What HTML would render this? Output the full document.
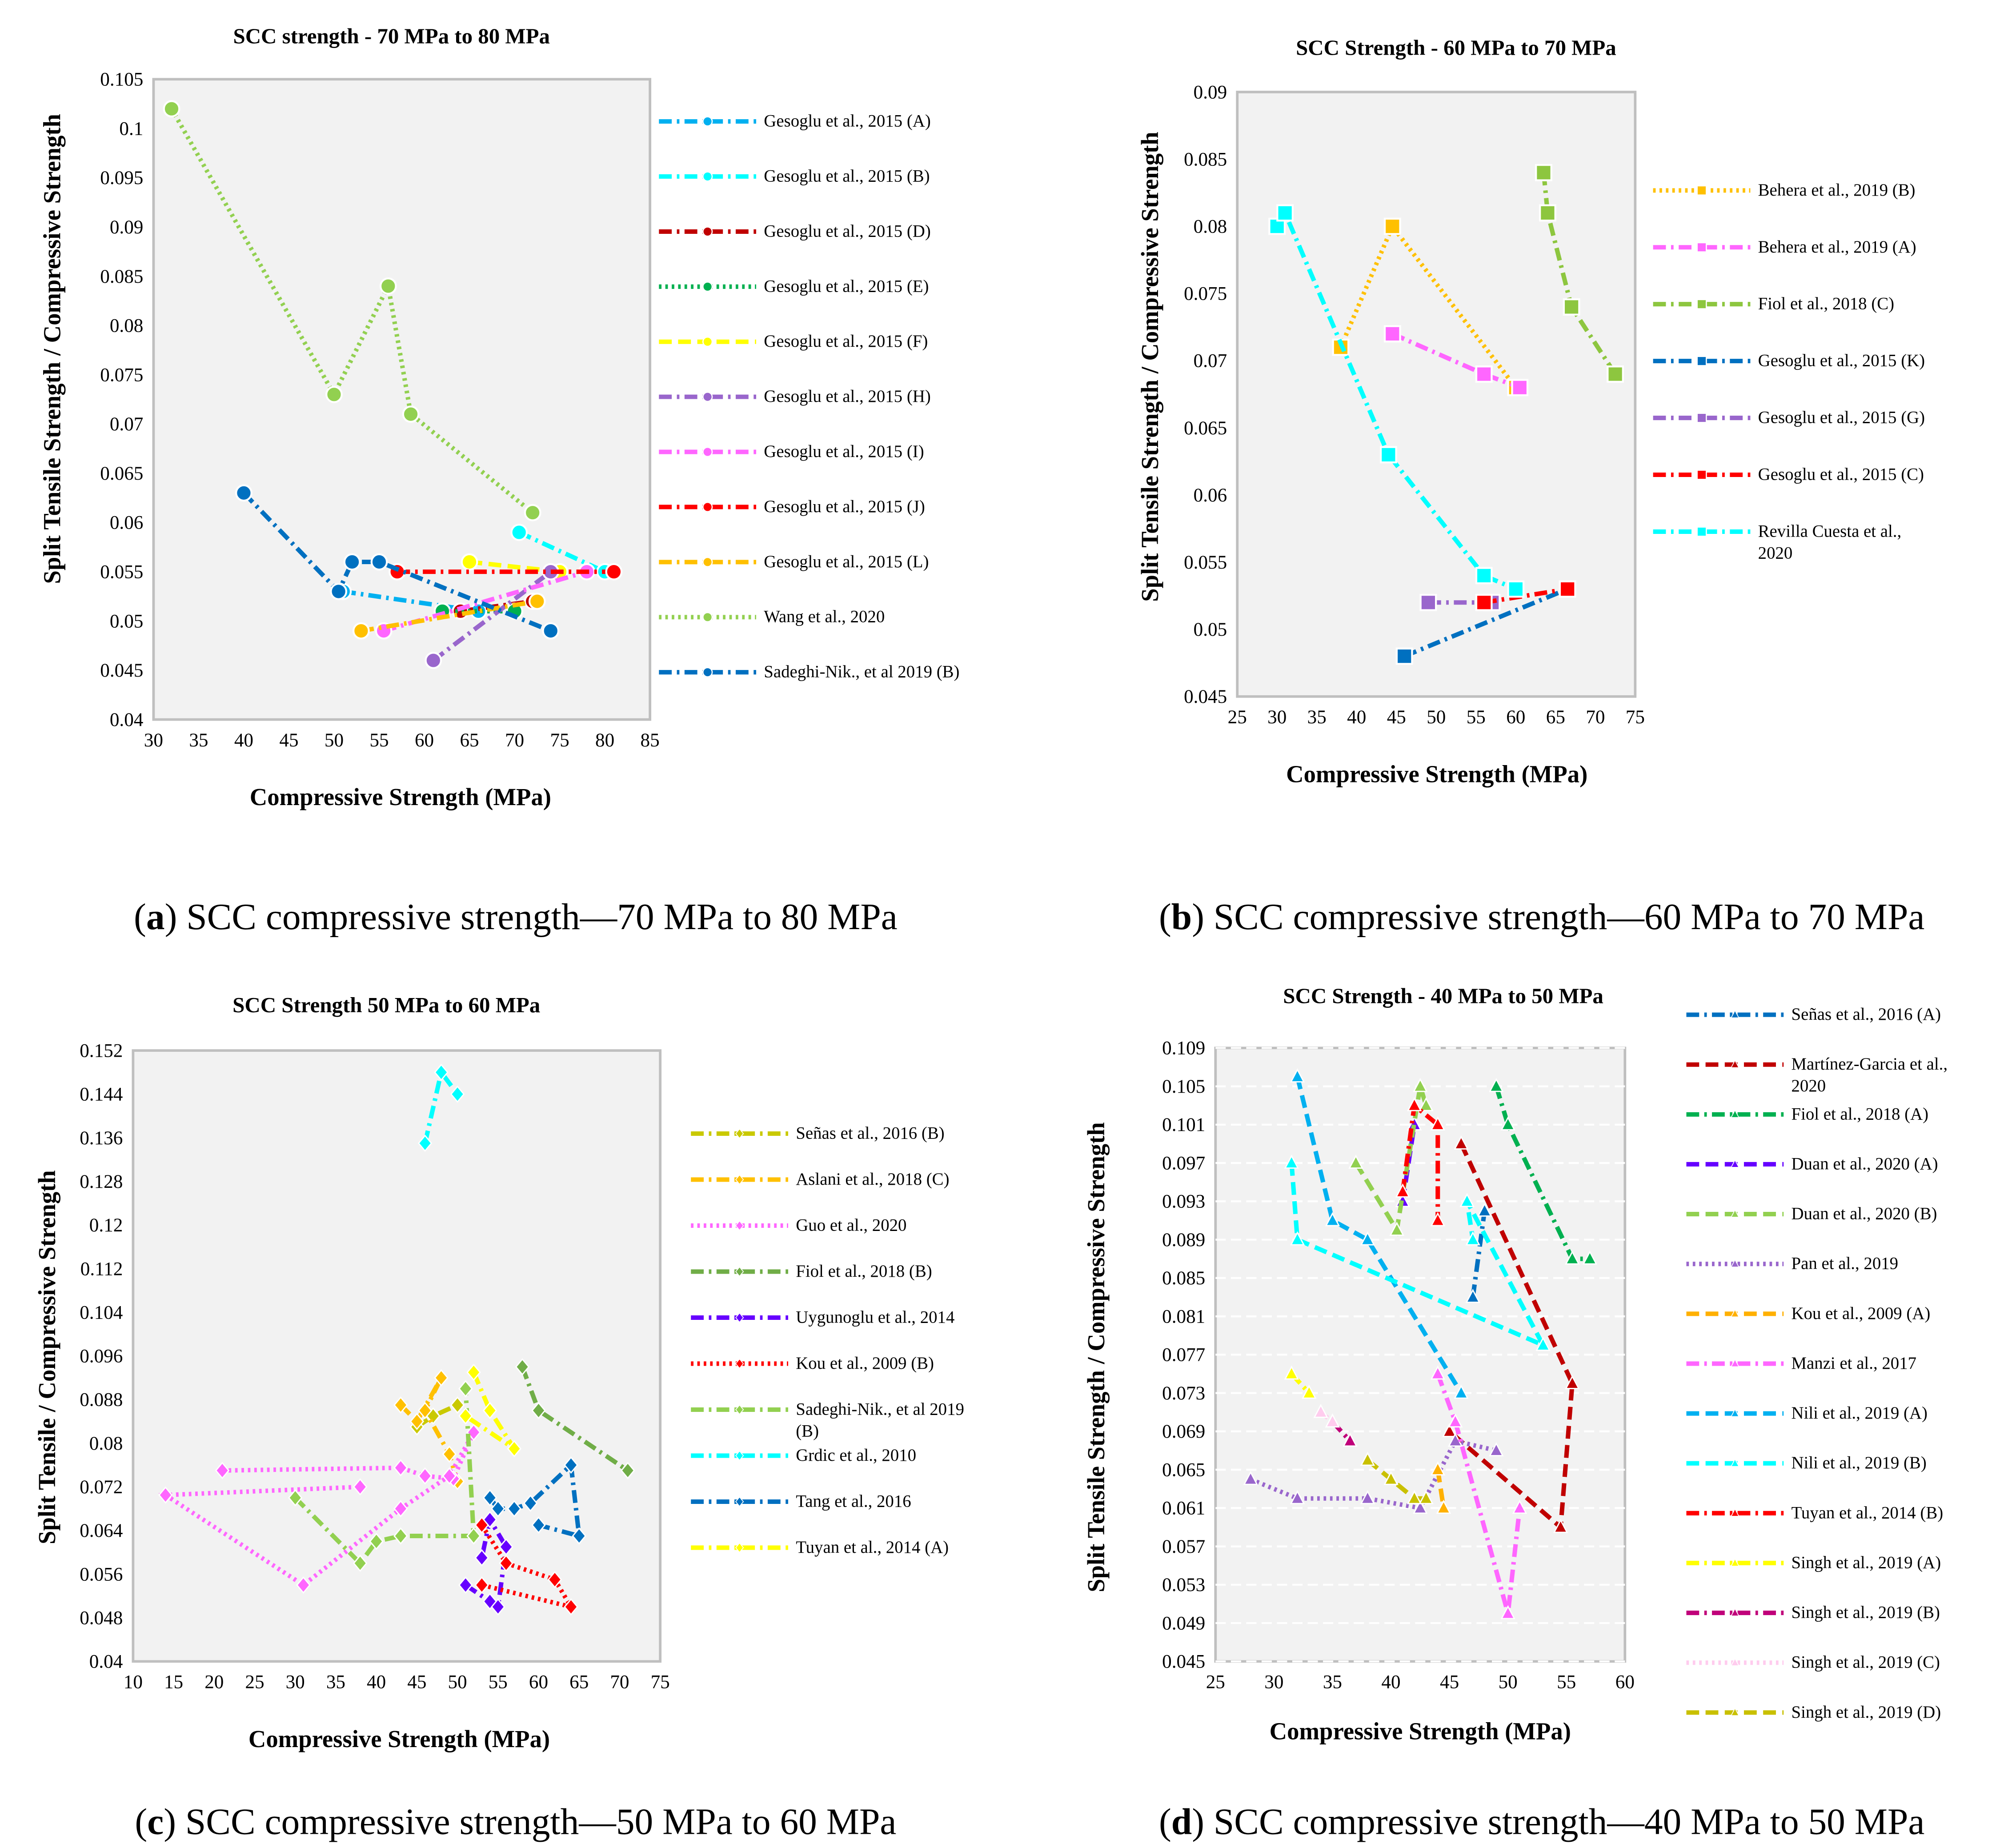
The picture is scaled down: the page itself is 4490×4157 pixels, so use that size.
<!DOCTYPE html>
<html><head><meta charset="utf-8"><style>
html,body{margin:0;padding:0;background:#fff}
svg{display:block}
text{font-family:"Liberation Serif",serif;fill:#000}
</style></head><body>
<svg id="s" width="4490" height="4157" viewBox="0 0 1560 1446" preserveAspectRatio="none" xmlns="http://www.w3.org/2000/svg"></svg>
<script>
// ---- Chart A data ----
const aWangX=[32,50,56,58.5,72], aWangY=[0.102,0.073,0.084,0.071,0.061];
const aSadX=[40,50.5,52,55,74], aSadY=[0.063,0.053,0.056,0.056,0.049];
const aAX=[51,66], aAY=[0.053,0.051];
const aBX=[70.5,80], aBY=[0.059,0.055];
const aDX=[64,72], aDY=[0.051,0.052];
const aEX=[62,70], aEY=[0.051,0.051];
const aFX=[65,75], aFY=[0.056,0.055];
const aHX=[61,74], aHY=[0.046,0.055];
const aIX=[55.5,78], aIY=[0.049,0.055];
const aJX=[57,81], aJY=[0.055,0.055];
const aLX=[53,72.5], aLY=[0.049,0.052];
const aXTicks=[30,35,40,45,50,55,60,65,70,75,80,85];
const aYTicks=[0.04,0.045,0.05,0.055,0.06,0.065,0.07,0.075,0.08,0.085,0.09,0.095,0.1,0.105];
// ---- Chart B data ----
const bBehBX=[38,44.5,60], bBehBY=[0.071,0.08,0.068];
const bBehAX=[44.5,56,60.5], bBehAY=[0.072,0.069,0.068];
const bFiolX=[63.5,64,67,72.5], bFiolY=[0.084,0.081,0.074,0.069];
const bKX=[46,66.5], bKY=[0.048,0.053];
const bGX=[49,57], bGY=[0.052,0.052];
const bCX=[56,66.5], bCY=[0.052,0.053];
const bRevX=[30,31,44,56,60], bRevY=[0.08,0.081,0.063,0.054,0.053];
const bXTicks=[25,30,35,40,45,50,55,60,65,70,75];
const bYTicks=[0.045,0.05,0.055,0.06,0.065,0.07,0.075,0.08,0.085,0.09];
// ---- Chart C data ----
const cSenX=[45,47,50], cSenY=[0.083,0.085,0.087];
const cAslX=[43,45,48,46,49,50], cAslY=[0.087,0.084,0.092,0.086,0.078,0.073];
const cGuoX=[21,43,46,49.5,52,49,43,31,14,38], cGuoY=[0.075,0.0755,0.074,0.0735,0.082,0.074,0.068,0.054,0.0705,0.072];
const cFiolX=[58,60,71], cFiolY=[0.094,0.086,0.075];
const cUygX=[51,54,55,56,54,53], cUygY=[0.054,0.051,0.05,0.061,0.066,0.059];
const cKouX=[53,56,62,64,53], cKouY=[0.065,0.058,0.055,0.05,0.054];
const cSadX=[30,38,40,43,52,51], cSadY=[0.07,0.058,0.062,0.063,0.063,0.09];
const cGrdX=[46,48,50], cGrdY=[0.135,0.148,0.144];
const cTangX=[54,55,57,59,64,65,60], cTangY=[0.07,0.068,0.068,0.069,0.076,0.063,0.065];
const cTuyX=[52,54,57,51], cTuyY=[0.093,0.086,0.079,0.085];
const cXTicks=[10,15,20,25,30,35,40,45,50,55,60,65,70,75];
const cYTicks=[0.04,0.048,0.056,0.064,0.072,0.08,0.088,0.096,0.104,0.112,0.12,0.128,0.136,0.144,0.152];
// ---- Chart D data ----
const dSenX=[47,48], dSenY=[0.083,0.092];
const dMarX=[46,55.5,54.5,45], dMarY=[0.099,0.074,0.059,0.069];
const dFiolX=[49,50,55.5,57], dFiolY=[0.105,0.101,0.087,0.087];
const dDuAX=[41,42], dDuAY=[0.093,0.101];
const dDuBX=[37,40.5,42.5,43], dDuBY=[0.097,0.09,0.105,0.103];
const dPanX=[28,32,38,42.5,45.5,49], dPanY=[0.064,0.062,0.062,0.061,0.068,0.067];
const dKouX=[44,44.5], dKouY=[0.065,0.061];
const dManX=[44,45.5,50,51], dManY=[0.075,0.07,0.05,0.061];
const dNiAX=[32,35,38,46], dNiAY=[0.106,0.091,0.089,0.073];
const dNiBX=[31.5,32,53,46.5,47], dNiBY=[0.097,0.089,0.078,0.093,0.089];
const dTuyX=[41,42,44,44], dTuyY=[0.094,0.103,0.101,0.091];
const dSAX=[31.5,33], dSAY=[0.075,0.073];
const dSBX=[35,36.5], dSBY=[0.07,0.068];
const dSCX=[34,35], dSCY=[0.071,0.07];
const dSDX=[38,40,42,43], dSDY=[0.066,0.064,0.062,0.062];
const dXTicks=[25,30,35,40,45,50,55,60];
const dYTicks=[0.045,0.049,0.053,0.057,0.061,0.065,0.069,0.073,0.077,0.081,0.085,0.089,0.093,0.097,0.101,0.105,0.109];

const NS="http://www.w3.org/2000/svg", S=document.getElementById('s');
function el(tag,at,parent,txt){const e=document.createElementNS(NS,tag);for(const k in at)e.setAttribute(k,at[k]);if(txt!==undefined)e.textContent=txt;(parent||S).appendChild(e);return e;}
const DASH={dd:"10,4,2,4",dot:"2,3",dash:"10,5"};
function marker(g,shape,x,y,c){let m;
 if(shape==='c')m=el('circle',{cx:x,cy:y,r:6,fill:c,stroke:'#fff','stroke-width':1.5},g);
 else if(shape==='s')m=el('rect',{x:x-6,y:y-6,width:12,height:12,fill:c,stroke:'#fff','stroke-width':1.5},g);
 else if(shape==='d')m=el('path',{d:`M${x},${y-6}L${x+5},${y}L${x},${y+6}L${x-5},${y}Z`,fill:c,stroke:'#fff','stroke-width':1},g);
 else m=el('path',{d:`M${x},${y-5.5}L${x+5},${y+4}L${x-5},${y+4}Z`,fill:c,stroke:'#fff','stroke-width':1},g);
 return m;}
function chart(cfg){
 const g=el('g',{});  
 const [x0,x1,y0,y1]=cfg.box, [xa,xb]=cfg.xd, [ya,yb]=cfg.yd;
 const sx=v=>x0+(v-xa)/(xb-xa)*(x1-x0), sy=v=>y1-(v-ya)/(yb-ya)*(y1-y0);
 const pa=el('rect',{x:x0,y:y0,width:x1-x0,height:y1-y0,fill:'#f2f2f2',stroke:'#bfbfbf','stroke-width':2},g);
 
 if(cfg.grid)cfg.yt.forEach(v=>{const l=el('line',{x1:x0,x2:x1,y1:sy(v),y2:sy(v),stroke:'#fff','stroke-width':1.5,'stroke-dasharray':'8,4'},g);});
 cfg.xt.forEach(v=>{const t=el('text',{x:sx(v),y:y1+21,'text-anchor':'middle','font-size':15},g,String(v));});
 cfg.yt.forEach(v=>{const t=el('text',{x:x0-8,y:sy(v)+5,'text-anchor':'end','font-size':15},g,String(+v.toFixed(3)));});
 let t=el('text',{x:cfg.title[0],y:cfg.title[1],'text-anchor':'middle','font-size':17,'font-weight':'bold'},g,cfg.title[2]);
 t=el('text',{x:cfg.xl[0],y:cfg.xl[1],'text-anchor':'middle','font-size':19,'font-weight':'bold'},g,'Compressive Strength (MPa)');
 t=el('text',{x:0,y:0,'text-anchor':'middle','font-size':19,'font-weight':'bold',transform:`translate(${cfg.yl[0]},${cfg.yl[1]}) rotate(-90)`},g,cfg.yl[2]);
 t=el('text',{x:cfg.cap[0],y:cfg.cap[1],'text-anchor':'middle','font-size':29},g);
 el('tspan',{},t,'(');el('tspan',{'font-weight':'bold'},t,cfg.cap[2]);el('tspan',{},t,') '+cfg.cap[3]);
 
 cfg.series.forEach((s,i)=>{
  const sg=el('g',{},g);
  const pts=s.x.map((v,j)=>sx(v)+','+sy(s.y[j])).join(' ');
  el('polyline',{points:pts,fill:'none',stroke:s.c,'stroke-width':3.5,'stroke-dasharray':DASH[s.d]},sg);
  s.x.forEach((v,j)=>{const m=marker(sg,cfg.m,sx(v),sy(s.y[j]),s.c);});
  const L=cfg.leg, ly=L.y+L.dy*i;
  const lg=el('g',{},g);
  el('line',{x1:L.x,x2:L.x+76,y1:ly,y2:ly,stroke:s.c,'stroke-width':3.5,'stroke-dasharray':DASH[s.d]},lg);
  marker(lg,cfg.m,L.x+38,ly,s.c).setAttribute('transform',`translate(${L.x+38},${ly}) scale(0.6) translate(${-(L.x+38)},${-ly})`);
  const lines=s.n.split('|');
  lines.forEach((ln,k)=>el('text',{x:L.x+82,y:ly+4+k*17,'font-size':13.5},lg,ln));
 });
}
chart({name:'chart-a',box:[120,508,62,563],xd:[30,85],yd:[0.04,0.105],xt:aXTicks,yt:aYTicks,m:'c',
 title:[306,34,'SCC strength - 70 MPa to 80 MPa'],xl:[313,630],yl:[47,273,'Split Tensile Strength / Compressive Strength'],
 cap:[403,727,'a','SCC compressive strength\u201470 MPa to 80 MPa'],leg:{x:515,y:95,dy:43.1},
 series:[{key:'gesoglu-a',n:'Gesoglu et al., 2015 (A)',c:'#00b0f0',d:'dd',x:aAX,y:aAY},
 {key:'gesoglu-b',n:'Gesoglu et al., 2015 (B)',c:'#00ffff',d:'dd',x:aBX,y:aBY},
 {key:'gesoglu-d',n:'Gesoglu et al., 2015 (D)',c:'#c00000',d:'dd',x:aDX,y:aDY},
 {key:'gesoglu-e',n:'Gesoglu et al., 2015 (E)',c:'#00b050',d:'dot',x:aEX,y:aEY},
 {key:'gesoglu-f',n:'Gesoglu et al., 2015 (F)',c:'#ffff00',d:'dash',x:aFX,y:aFY},
 {key:'gesoglu-h',n:'Gesoglu et al., 2015 (H)',c:'#9966cc',d:'dd',x:aHX,y:aHY},
 {key:'gesoglu-i',n:'Gesoglu et al., 2015 (I)',c:'#ff66ff',d:'dd',x:aIX,y:aIY},
 {key:'gesoglu-j',n:'Gesoglu et al., 2015 (J)',c:'#ff0000',d:'dd',x:aJX,y:aJY},
 {key:'gesoglu-l',n:'Gesoglu et al., 2015 (L)',c:'#ffc000',d:'dd',x:aLX,y:aLY},
 {key:'wang',n:'Wang et al., 2020',c:'#92d050',d:'dot',x:aWangX,y:aWangY},
 {key:'sadeghi-b',n:'Sadeghi-Nik., et al 2019 (B)',c:'#0070c0',d:'dd',x:aSadX,y:aSadY}]});
chart({name:'chart-b',box:[967,1278,72,545],xd:[25,75],yd:[0.045,0.09],xt:bXTicks,yt:bYTicks,m:'s',
 title:[1138,43,'SCC Strength - 60 MPa to 70 MPa'],xl:[1123,612],yl:[905,287,'Split Tensile Strength / Compressive Strength'],
 cap:[1205,727,'b','SCC compressive strength\u201460 MPa to 70 MPa'],leg:{x:1292,y:149,dy:44.5},
 series:[{key:'behera-b',n:'Behera et al., 2019 (B)',c:'#ffc000',d:'dot',x:bBehBX,y:bBehBY},
 {key:'behera-a',n:'Behera et al., 2019 (A)',c:'#ff66ff',d:'dd',x:bBehAX,y:bBehAY},
 {key:'fiol-c',n:'Fiol et al., 2018 (C)',c:'#8dc63f',d:'dd',x:bFiolX,y:bFiolY},
 {key:'gesoglu-k',n:'Gesoglu et al., 2015 (K)',c:'#0070c0',d:'dd',x:bKX,y:bKY},
 {key:'gesoglu-g',n:'Gesoglu et al., 2015 (G)',c:'#9966cc',d:'dd',x:bGX,y:bGY},
 {key:'gesoglu-c',n:'Gesoglu et al., 2015 (C)',c:'#ff0000',d:'dd',x:bCX,y:bCY},
 {key:'revilla',n:'Revilla Cuesta et al.,|2020',c:'#00ffff',d:'dd',x:bRevX,y:bRevY}]});
chart({name:'chart-c',box:[104,516,822,1300],xd:[10,75],yd:[0.04,0.152],xt:cXTicks,yt:cYTicks,m:'d',
 title:[302,792,'SCC Strength 50 MPa to 60 MPa'],xl:[312,1367],yl:[43,1062,'Split Tensile / Compressive Strength'],
 cap:[403,1435,'c','SCC compressive strength\u201450 MPa to 60 MPa'],leg:{x:540,y:887,dy:36},
 series:[{key:'senas-b',n:'Señas et al., 2016 (B)',c:'#c9c900',d:'dd',x:cSenX,y:cSenY},
 {key:'aslani-c',n:'Aslani et al., 2018 (C)',c:'#ffc000',d:'dd',x:cAslX,y:cAslY},
 {key:'guo',n:'Guo et al., 2020',c:'#ff66ff',d:'dot',x:cGuoX,y:cGuoY},
 {key:'fiol-b',n:'Fiol et al., 2018 (B)',c:'#70ad47',d:'dd',x:cFiolX,y:cFiolY},
 {key:'uygunoglu',n:'Uygunoglu et al., 2014',c:'#6600ff',d:'dd',x:cUygX,y:cUygY},
 {key:'kou-b',n:'Kou et al., 2009 (B)',c:'#ff0000',d:'dot',x:cKouX,y:cKouY},
 {key:'sadeghi-b',n:'Sadeghi-Nik., et al 2019|(B)',c:'#92d050',d:'dd',x:cSadX,y:cSadY},
 {key:'grdic',n:'Grdic et al., 2010',c:'#00ffff',d:'dd',x:cGrdX,y:cGrdY},
 {key:'tang',n:'Tang et al., 2016',c:'#0070c0',d:'dd',x:cTangX,y:cTangY},
 {key:'tuyan-a',n:'Tuyan et al., 2014 (A)',c:'#ffff00',d:'dd',x:cTuyX,y:cTuyY}]});
chart({name:'chart-d',box:[950,1270,820,1300],xd:[25,60],yd:[0.045,0.109],xt:dXTicks,yt:dYTicks,m:'t',grid:true,
 title:[1128,785,'SCC Strength - 40 MPa to 50 MPa'],xl:[1110,1361],yl:[863,1062,'Split Tensile Strength / Compressive Strength'],
 cap:[1205,1435,'d','SCC compressive strength\u201440 MPa to 50 MPa'],leg:{x:1318,y:794,dy:39},
 series:[{key:'senas-a',n:'Señas et al., 2016 (A)',c:'#0070c0',d:'dd',x:dSenX,y:dSenY},
 {key:'martinez',n:'Martínez-Garcia et al.,|2020',c:'#c00000',d:'dash',x:dMarX,y:dMarY},
 {key:'fiol-a',n:'Fiol et al., 2018 (A)',c:'#00b050',d:'dd',x:dFiolX,y:dFiolY},
 {key:'duan-a',n:'Duan et al., 2020 (A)',c:'#6600ff',d:'dash',x:dDuAX,y:dDuAY},
 {key:'duan-b',n:'Duan et al., 2020 (B)',c:'#92d050',d:'dash',x:dDuBX,y:dDuBY},
 {key:'pan',n:'Pan et al., 2019',c:'#9966cc',d:'dot',x:dPanX,y:dPanY},
 {key:'kou-a',n:'Kou et al., 2009 (A)',c:'#ffb000',d:'dash',x:dKouX,y:dKouY},
 {key:'manzi',n:'Manzi et al., 2017',c:'#ff66ff',d:'dd',x:dManX,y:dManY},
 {key:'nili-a',n:'Nili et al., 2019 (A)',c:'#00b0f0',d:'dash',x:dNiAX,y:dNiAY},
 {key:'nili-b',n:'Nili et al., 2019 (B)',c:'#00ffff',d:'dash',x:dNiBX,y:dNiBY},
 {key:'tuyan-b',n:'Tuyan et al., 2014 (B)',c:'#ff0000',d:'dd',x:dTuyX,y:dTuyY},
 {key:'singh-a',n:'Singh et al., 2019 (A)',c:'#ffff00',d:'dd',x:dSAX,y:dSAY},
 {key:'singh-b',n:'Singh et al., 2019 (B)',c:'#c0007a',d:'dd',x:dSBX,y:dSBY},
 {key:'singh-c',n:'Singh et al., 2019 (C)',c:'#ffccee',d:'dot',x:dSCX,y:dSCY},
 {key:'singh-d',n:'Singh et al., 2019 (D)',c:'#c9c000',d:'dash',x:dSDX,y:dSDY}]});
</script>
</body></html>
